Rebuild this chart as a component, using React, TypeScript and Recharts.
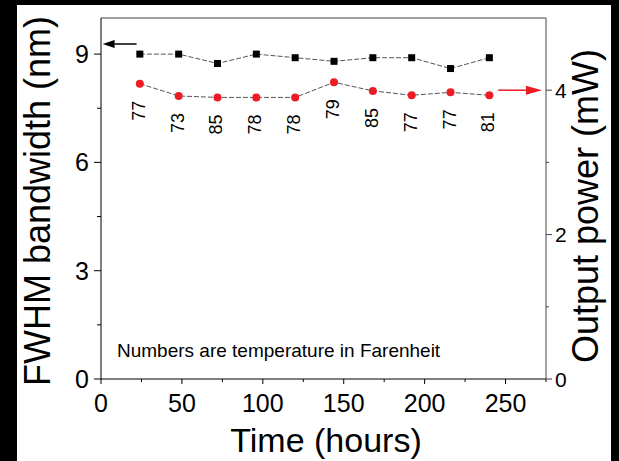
import {
  ComposedChart,
  Line,
  XAxis,
  YAxis,
  ReferenceLine,
  LabelList,
  Customized,
} from "recharts";

const hours = [24, 48, 72, 96, 120, 144, 168, 192, 216, 240];
const fwhm = [9.0, 9.0, 8.74, 9.0, 8.9, 8.8, 8.9, 8.9, 8.6, 8.9];
const power = [4.09, 3.92, 3.9, 3.9, 3.9, 4.11, 3.99, 3.93, 3.97, 3.93];
const temps = [77, 73, 85, 78, 78, 79, 85, 77, 77, 81];

const xTicks = [0, 25, 50, 75, 100, 125, 150, 175, 200, 225, 250, 275];
const xLabels = [0, 50, 100, 150, 200, 250];
const leftTicks = [0, 1.5, 3, 4.5, 6, 7.5, 9];
const leftLabels = [0, 3, 6, 9];
const rightTicks = [0, 1, 2, 3, 4];
const rightLabels = [0, 2, 4];

const note = "Numbers are temperature in Farenheit";

const data = hours.map((h, i) => ({
  hours: h,
  fwhm: fwhm[i],
  power: power[i],
  temp: temps[i],
}));

const FONT = "Arial, 'Liberation Sans', sans-serif";
const RED = "#ec1c24";

function LeftTick(props: any) {
  const { x, y, payload } = props;
  const major = leftLabels.includes(payload.value);
  return (
    <g>
      <line x1={x - (major ? 7 : 4)} x2={x} y1={y} y2={y} stroke="#000" />
      {major && (
        <text x={x - 12} y={y} textAnchor="end" dominantBaseline="central"
          fontSize={25} fontFamily={FONT} fill="#000">
          {payload.value}
        </text>
      )}
    </g>
  );
}

function RightTick(props: any) {
  const { x, y, payload } = props;
  const major = rightLabels.includes(payload.value);
  return (
    <g>
      <line x1={x} x2={x + (major ? 6 : 3)} y1={y} y2={y} stroke="#444" />
      {major && (
        <text x={x + 9} y={y} textAnchor="start" dominantBaseline="central"
          fontSize={21} fontFamily={FONT} fill="#000">
          {payload.value}
        </text>
      )}
    </g>
  );
}

function BottomTick(props: any) {
  const { x, y, payload } = props;
  const major = xLabels.includes(payload.value);
  return (
    <g>
      <line x1={x} x2={x} y1={y} y2={y + (major ? 5 : 3)} stroke="#000" />
      {major && (
        <text x={x} y={y + 33} textAnchor="middle"
          fontSize={25} fontFamily={FONT} fill="#000">
          {payload.value}
        </text>
      )}
    </g>
  );
}

function Square(props: any) {
  const { cx, cy } = props;
  if (cx == null || cy == null) return null;
  return <rect x={cx - 3.5} y={cy - 3.5} width={7} height={7} fill="#000" />;
}

function Dot(props: any) {
  const { cx, cy } = props;
  if (cx == null || cy == null) return null;
  return <circle cx={cx} cy={cy} r={4} fill={RED} />;
}

function TempLabel(props: any) {
  const { x, y, value } = props;
  const tx = x - 1;
  const ty = y + 37;
  return (
    <text x={tx} y={ty} transform={`rotate(-90 ${tx} ${ty})`}
      textAnchor="start" dominantBaseline="central"
      fontSize={18} fontFamily={FONT} fill="#000">
      {value}
    </text>
  );
}

function arrow(len: number, half: number) {
  return (props: any) => {
    const { x1, y1, x2, y2, stroke } = props;
    const dir = x2 > x1 ? 1 : -1;
    const bx = x2 - dir * len;
    return (
      <g>
        <line x1={x1} y1={y1} x2={bx} y2={y2} stroke={stroke} strokeWidth={1.5} />
        <polygon points={`${x2},${y2} ${bx},${y2 - half} ${bx},${y2 + half}`} fill={stroke} />
      </g>
    );
  };
}

function Titles() {
  return (
    <g fontFamily={FONT} fill="#000">
      <text x={50} y={201} transform="rotate(-90 50 201)" textAnchor="middle" fontSize={36}>
        FWHM bandwidth (nm)
      </text>
      <text x={598} y={206} transform="rotate(-90 598 206)" textAnchor="middle" fontSize={36}>
        Output power (mW)
      </text>
      <text x={326} y={452} textAnchor="middle" fontSize={34}>
        Time (hours)
      </text>
      <text x={117} y={357} textAnchor="start" fontSize={19}>
        {note}
      </text>
    </g>
  );
}

export default function App() {
  return (
    <div style={styles.page}>
      <div style={styles.panel} />
      <div style={styles.chart}>
        <ComposedChart
          width={619}
          height={461}
          data={data}
          margin={{ top: 18, right: 0, left: 0, bottom: 0 }}
        >
          <XAxis
            dataKey="hours"
            type="number"
            domain={[0, 275]}
            ticks={xTicks}
            interval={0}
            height={82}
            tickSize={0}
            tickMargin={0}
            tickLine={false}
            axisLine={{ stroke: "#000" }}
            tick={(p: any) => <BottomTick {...p} />}
          />
          <YAxis
            yAxisId="left"
            type="number"
            domain={[0, 10]}
            ticks={leftTicks}
            interval={0}
            width={101}
            tickSize={0}
            tickMargin={0}
            tickLine={false}
            axisLine={{ stroke: "#000" }}
            tick={(p: any) => <LeftTick {...p} />}
          />
          <YAxis
            yAxisId="right"
            orientation="right"
            type="number"
            domain={[0, 5]}
            ticks={rightTicks}
            interval={0}
            width={73}
            tickSize={0}
            tickMargin={0}
            tickLine={false}
            axisLine={{ stroke: "#444" }}
            tick={(p: any) => <RightTick {...p} />}
          />
          <ReferenceLine yAxisId="left" y={10} stroke="#444" />
          <ReferenceLine
            yAxisId="left"
            segment={[{ x: 22, y: 9.28 }, { x: 1, y: 9.28 }]}
            stroke="#000"
            shape={arrow(12, 4)}
          />
          <ReferenceLine
            yAxisId="right"
            segment={[{ x: 245.5, y: 4.0 }, { x: 272.5, y: 4.0 }]}
            stroke={RED}
            shape={arrow(16, 4.5)}
          />
          <Line
            yAxisId="left"
            type="linear"
            dataKey="fwhm"
            stroke="#555"
            strokeWidth={1}
            strokeDasharray="5 2"
            dot={(p: any) => <Square key={p.index} {...p} />}
            activeDot={false}
            isAnimationActive={false}
          />
          <Line
            yAxisId="right"
            type="linear"
            dataKey="power"
            stroke="#555"
            strokeWidth={1}
            strokeDasharray="5 2"
            dot={(p: any) => <Dot key={p.index} {...p} />}
            activeDot={false}
            isAnimationActive={false}
          >
            <LabelList dataKey="temp" content={(p: any) => <TempLabel {...p} />} />
          </Line>
          <Customized component={Titles} />
        </ComposedChart>
      </div>
    </div>
  );
}

const styles: Record<string, React.CSSProperties> = {
  page: {
    position: "absolute",
    left: 0,
    top: 0,
    width: 619,
    height: 461,
    background: "#000",
    overflow: "hidden",
  },
  panel: {
    position: "absolute",
    left: 17,
    top: 5,
    width: 594,
    height: 456,
    background: "#fff",
  },
  chart: {
    position: "absolute",
    left: 0,
    top: 0,
  },
};
